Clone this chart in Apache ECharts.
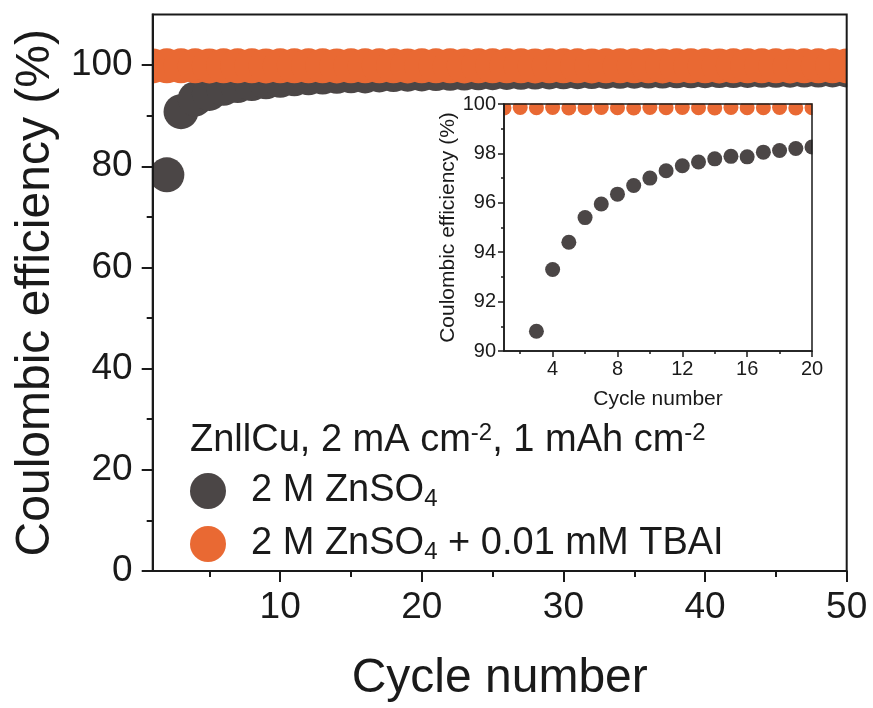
<!DOCTYPE html>
<html>
<head>
<meta charset="utf-8">
<script src="https://cdn.jsdelivr.net/npm/echarts@6/dist/echarts.min.js"></script>
<style>
  html, body { margin: 0; padding: 0; background: #ffffff; }
  #chart { width: 873px; height: 708px; }
</style>
</head>
<body>
<div id="chart"></div>
<script>
// Cycle index shared by both electrolytes
const cycles = [1, 2, 3, 4, 5, 6, 7, 8, 9, 10,
  11, 12, 13, 14, 15, 16, 17, 18, 19, 20,
  21, 22, 23, 24, 25, 26, 27, 28, 29, 30,
  31, 32, 33, 34, 35, 36, 37, 38, 39, 40,
  41, 42, 43, 44, 45, 46, 47, 48, 49, 50];

// Coulombic efficiency (%) – 2 M ZnSO4 (no value for the first cycle)
const ceZnSO4 = [null, 78.3, 90.8, 93.3, 94.4, 95.4, 95.95, 96.35, 96.7, 97.0,
  97.3, 97.5, 97.65, 97.78, 97.88, 97.86, 98.05, 98.12, 98.2, 98.26,
  98.32, 98.38, 98.42, 98.47, 98.5, 98.55, 98.58, 98.62, 98.65, 98.68,
  98.7, 98.73, 98.75, 98.78, 98.8, 98.82, 98.84, 98.86, 98.88, 98.9,
  98.92, 98.93, 98.95, 98.96, 98.98, 99.0, 99.01, 99.02, 99.04, 99.05];

// Coulombic efficiency (%) – 2 M ZnSO4 + 0.01 mM TBAI
const ceTBAI = [99.84, 99.86, 99.85, 99.86, 99.84, 99.85, 99.86, 99.85, 99.84, 99.86,
  99.85, 99.86, 99.85, 99.84, 99.86, 99.85, 99.85, 99.86, 99.84, 99.85,
  99.86, 99.85, 99.84, 99.86, 99.85, 99.85, 99.86, 99.84, 99.85, 99.86,
  99.85, 99.84, 99.86, 99.85, 99.85, 99.86, 99.84, 99.85, 99.86, 99.85,
  99.84, 99.86, 99.85, 99.85, 99.86, 99.84, 99.85, 99.86, 99.85, 99.84];

// Tick positions
const mainXTicks = [10, 20, 30, 40, 50];
const mainXMinor = [5, 15, 25, 35, 45];
const mainYTicks = [0, 20, 40, 60, 80, 100];
const mainYMinor = [10, 30, 50, 70, 90];
const insetXTicks = [4, 8, 12, 16, 20];
const insetXMinor = [2, 6, 10, 14, 18];

const nameA = '2 M ZnSO4';
const nameB = '2 M ZnSO4 + 0.01 mM TBAI';

const GRAY = '#4b4646';
const ORANGE = '#e96933';
const INK = '#1a1a1a';
const FONT = '"Liberation Sans", Arial, sans-serif';

// Plot boxes (px) of the main panel and the zoomed inset
const MAIN = { left: 152.7, top: 14.5, width: 694, height: 559.5 };
const INSET = { left: 504, top: 104, width: 308, height: 247 };

const pairs = (ys, from, to) => cycles
  .map((c, i) => [c, ys[i]])
  .filter(p => p[1] !== null && p[0] >= from && p[0] <= to);

function valueAxis(extra, lw) {
  return Object.assign({
    type: 'value',
    z: 10,
    axisLine: { show: true, onZero: false, lineStyle: { color: INK, width: lw } },
    splitLine: { show: false },
    axisTick: { show: true, inside: false, lineStyle: { color: INK, width: lw } },
    axisLabel: { color: INK, fontFamily: FONT },
    nameTextStyle: { color: INK, fontFamily: FONT }
  }, extra);
}

function minorAxis(extra, len, values, lw) {
  return Object.assign({
    type: 'value',
    z: 10,
    axisLine: { show: false, onZero: false },
    splitLine: { show: false },
    axisLabel: { show: false },
    axisTick: { show: true, inside: false, length: len, customValues: values, lineStyle: { color: INK, width: lw } }
  }, extra);
}

// White strips that trim the big markers at the edges of each plot box
const trims = [
  { x: 0, y: 0, w: MAIN.left - 0.5, h: 708 },
  { x: MAIN.left + MAIN.width + 0.5, y: 0, w: 40, h: 708 },
  { x: INSET.left - 14, y: 93, w: 330, h: INSET.top - 93 - 0.5 },
  { x: INSET.left - 14, y: 93, w: 13.5, h: 30 },
  { x: INSET.left + INSET.width + 0.5, y: 93, w: 14, h: 70 }
];

const chart = echarts.init(document.getElementById('chart'), null, { renderer: 'canvas' });

const option = {
  backgroundColor: '#ffffff',
  animation: false,
  graphic: trims.map(r => ({
    type: 'rect', z: 8, silent: true,
    shape: { x: r.x, y: r.y, width: r.w, height: r.h },
    style: { fill: '#ffffff' }
  })),
  title: {
    text: '{t|ZnllCu, 2 mA cm}{p|-2}{t|, 1 mAh cm}{p|-2}',
    left: 190,
    top: 420,
    padding: 0,
    textStyle: {
      fontWeight: 'normal',
      rich: {
        t: { fontSize: 38, fontWeight: 'normal', fontFamily: FONT, color: INK, lineHeight: 42 },
        p: { fontSize: 24, fontWeight: 'normal', fontFamily: FONT, color: INK, padding: [0, 0, 16, 0], lineHeight: 26 }
      }
    }
  },
  legend: {
    data: [nameA, nameB],
    orient: 'vertical',
    left: 190,
    top: 471,
    padding: 0,
    itemWidth: 36,
    itemHeight: 36,
    itemGap: 13,
    icon: 'circle',
    formatter: function (n) {
      return n === nameA
        ? '{t|2 M ZnSO}{s|4}'
        : '{t|2 M ZnSO}{s|4}{t| + 0.01 mM TBAI}';
    },
    textStyle: {
      padding: [0, 0, 0, 20],
      rich: {
        t: { fontSize: 38, fontFamily: FONT, color: INK, lineHeight: 38 },
        s: { fontSize: 24, fontFamily: FONT, color: INK, padding: [16, 0, 0, 0], lineHeight: 22 }
      }
    }
  },
  grid: [
    Object.assign({ show: true, z: 10, borderColor: INK, borderWidth: 2, backgroundColor: 'transparent' }, MAIN),
    Object.assign({ show: true, z: 10, borderColor: INK, borderWidth: 1.5, backgroundColor: 'transparent' }, INSET)
  ],
  xAxis: [
    valueAxis({
      gridIndex: 0, min: 1, max: 50, position: 'bottom',
      name: 'Cycle number', nameLocation: 'middle', nameGap: 84,
      nameTextStyle: { color: INK, fontFamily: FONT, fontSize: 48 },
      axisTick: { show: true, inside: false, length: 11, customValues: mainXTicks, lineStyle: { color: INK, width: 2 } },
      axisLabel: { color: INK, fontFamily: FONT, fontSize: 37, margin: 18, customValues: mainXTicks }
    }, 2),
    minorAxis({ gridIndex: 0, min: 1, max: 50, position: 'bottom', offset: 0 }, 6, mainXMinor, 2),
    valueAxis({
      gridIndex: 1, min: 1, max: 20, position: 'bottom',
      name: 'Cycle number', nameLocation: 'middle', nameGap: 38,
      nameTextStyle: { color: INK, fontFamily: FONT, fontSize: 21 },
      axisTick: { show: true, inside: false, length: 6, customValues: insetXTicks, lineStyle: { color: INK, width: 1.5 } },
      axisLabel: { color: INK, fontFamily: FONT, fontSize: 20, margin: 8, customValues: insetXTicks }
    }, 1.5),
    minorAxis({ gridIndex: 1, min: 1, max: 20, position: 'bottom', offset: 0 }, 3, insetXMinor, 1.5)
  ],
  yAxis: [
    valueAxis({
      gridIndex: 0, min: 0, max: 110, position: 'left',
      name: 'Coulombic efficiency (%)', nameLocation: 'middle', nameGap: 92,
      nameTextStyle: { color: INK, fontFamily: FONT, fontSize: 48 },
      axisTick: { show: true, inside: false, length: 11, customValues: mainYTicks, lineStyle: { color: INK, width: 2 } },
      axisLabel: { color: INK, fontFamily: FONT, fontSize: 37, margin: 20, customValues: mainYTicks }
    }, 2),
    minorAxis({ gridIndex: 0, min: 0, max: 110, position: 'left', offset: 0 }, 6, mainYMinor, 2),
    valueAxis({
      gridIndex: 1, min: 90, max: 100, interval: 2, position: 'left',
      name: 'Coulombic efficiency (%)', nameLocation: 'middle', nameGap: 36,
      nameTextStyle: { color: INK, fontFamily: FONT, fontSize: 21 },
      axisTick: { show: true, inside: false, length: 6, lineStyle: { color: INK, width: 1.5 } },
      minorTick: { show: true, splitNumber: 2, length: 3, lineStyle: { color: INK, width: 1.5 } },
      axisLabel: { color: INK, fontFamily: FONT, fontSize: 20, margin: 8 }
    }, 1.5)
  ],
  series: [
    {
      name: nameA, type: 'scatter', xAxisIndex: 0, yAxisIndex: 0, clip: true,
      symbol: 'circle', symbolSize: 35, itemStyle: { color: GRAY, opacity: 1 },
      data: pairs(ceZnSO4, 1, 50), z: 2
    },
    {
      name: nameB, type: 'scatter', xAxisIndex: 0, yAxisIndex: 0, clip: true,
      symbol: 'circle', symbolSize: 35, itemStyle: { color: ORANGE, opacity: 1 },
      data: pairs(ceTBAI, 1, 50), z: 3
    },
    {
      name: nameA, type: 'scatter', xAxisIndex: 2, yAxisIndex: 2, clip: true,
      symbol: 'circle', symbolSize: 15, itemStyle: { color: GRAY, opacity: 1 },
      data: pairs(ceZnSO4, 1, 20), z: 4
    },
    {
      name: nameB, type: 'scatter', xAxisIndex: 2, yAxisIndex: 2, clip: true,
      symbol: 'circle', symbolSize: 15, itemStyle: { color: ORANGE, opacity: 1 },
      data: pairs(ceTBAI, 1, 20), z: 5
    }
  ]
};

chart.setOption(option);
</script>
</body>
</html>
